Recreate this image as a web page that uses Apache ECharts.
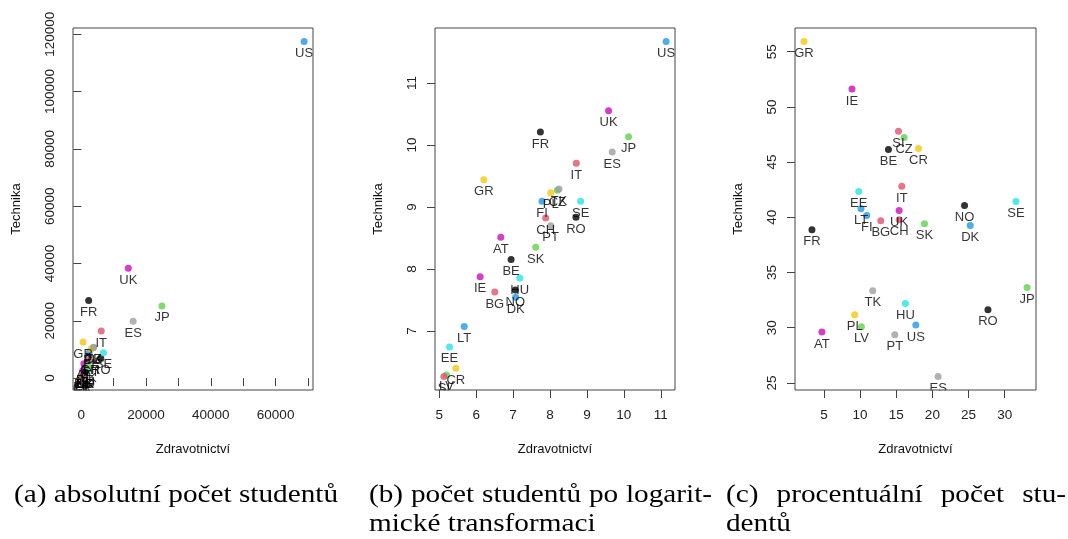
<!DOCTYPE html>
<html><head><meta charset="utf-8">
<script src="https://cdn.jsdelivr.net/npm/echarts@6/dist/echarts.min.js"></script>
<style>html,body{margin:0;padding:0;background:#fff}#c{width:1068px;height:539px}</style>
</head><body><div id="c"></div>
<script>
// ---- data ----
const countries = ['AT','BE','BG','CH','CR','CZ','DK','EE','ES','FI','FR','GR','HU','IE','IT','JP','LT','LV','NO','PL','PT','RO','SE','SI','SK','TK','UK','US'];
// (a) absolute numbers of students
const absHealth = [786,1040,668,2650,233,3640,1170,196,16000,2400,2260,520,1310,449,6150,24900,292,181,1170,3040,3040,6020,6830,168,2020,3800,14500,68800];
const absTech   = [4970,3470,2060,6790,600,10600,1890,847,19800,8880,27100,12600,2580,2630,16400,25200,1180,539,2120,10200,6000,6860,8880,525,4230,10800,38300,117500];
// (b) after log transformation
const logHealth = [6.667,6.946,6.505,7.883,5.45,8.198,7.07,5.279,9.685,7.784,7.739,6.207,7.18,6.108,8.712,10.126,5.676,5.198,7.06,8.018,8.018,8.703,8.829,5.126,7.613,8.243,9.586,11.144];
const logTech   = [8.511,8.151,7.629,8.823,6.398,9.269,7.543,6.742,9.887,9.091,10.21,9.441,7.855,7.876,9.704,10.134,7.07,6.29,7.661,9.231,8.699,8.833,9.091,6.263,8.349,9.29,10.554,11.672];
// (c) percentages
const pctHealth = [4.72,13.92,12.86,15.40,18.08,16.09,25.24,9.81,20.80,10.92,3.34,2.23,16.28,8.88,15.77,33.10,10.13,10.18,24.45,9.25,14.80,27.69,31.57,15.31,18.91,11.75,15.40,17.71];
const pctTech   = [29.61,46.13,39.68,39.77,46.22,47.22,39.26,42.34,25.57,40.16,38.87,55.93,32.18,51.62,42.82,33.65,40.77,30.09,41.07,31.18,29.37,31.63,41.43,47.79,39.41,33.35,40.62,30.25];

// tick values
const absXTicks = [0,10000,20000,30000,40000,50000,60000,70000];
const absXLabels = [0,20000,40000,60000];
const absYTicks = [0,20000,40000,60000,80000,100000,120000];
const logXTicks = [5,6,7,8,9,10,11];
const logYTicks = [7,8,9,10,11];
const pctXTicks = [5,10,15,20,25,30];
const pctYTicks = [25,30,35,40,45,50,55];

const xTitle = 'Zdravotnictví';
const yTitle = 'Technika';
const captionA = ['(a) absolutní počet studentů'];
const captionB = ['(b) počet studentů po logarit-', 'mické transformaci'];
const captionC = ['(c) procentuální počet stu-', 'dentů'];

// ---- colours (R default palette) ----
const BK='#000000', RD='#DF536B', GN='#61D04F', BL='#2297E6', CY='#28E2E5', MG='#CD0BBC', YL='#F5C710', GY='#9E9E9E';
const countryColors = [MG,BK,RD,RD,YL,GN,BL,CY,GY,BL,BK,YL,CY,MG,RD,GN,BL,GN,BK,YL,GY,BK,CY,RD,GN,GY,MG,BL];

// ---- layout ----
const grids = [
  {left:73, top:28, width:240, height:362},
  {left:435, top:28, width:240, height:362},
  {left:795, top:28, width:241, height:362}
];
const panels = [
  {x:absHealth, y:absTech, xt:absXTicks, xl:absXLabels, yt:absYTicks, yl:absYTicks},
  {x:logHealth, y:logTech, xt:logXTicks, xl:logXTicks, yt:logYTicks, yl:logYTicks},
  {x:pctHealth, y:pctTech, xt:pctXTicks, xl:pctXTicks, yt:pctYTicks, yl:pctYTicks}
];
function rng(a){const mn=Math.min(...a), mx=Math.max(...a), d=mx-mn; return [mn-0.04*d, mx+0.04*d];}

const AX='#444';
const xAxes=[], yAxes=[], series=[], graphics=[];
panels.forEach((p,i)=>{
  const xr=rng(p.x), yr=rng(p.y);
  xAxes.push({type:'value', gridIndex:i, min:xr[0], max:xr[1], z:10,
    axisLine:{show:false}, splitLine:{show:false},
    axisTick:{show:true, inside:false, length:8, lineStyle:{color:AX,width:1}, customValues:p.xt},
    axisLabel:{show:true, customValues:p.xl, margin:18, fontSize:13.5, color:'#222', fontFamily:'Liberation Sans', formatter:v=>String(v)}});
  yAxes.push({type:'value', gridIndex:i, min:yr[0], max:yr[1], z:10,
    axisLine:{show:false}, splitLine:{show:false},
    axisTick:{show:true, inside:false, length:8, lineStyle:{color:AX,width:1}, customValues:p.yt},
    axisLabel:{show:true, customValues:p.yl, rotate:90, margin:16, fontSize:13.5, color:'#222', fontFamily:'Liberation Sans', formatter:v=>String(v)}});
  const data = countries.map((c,k)=>({name:c, value:[p.x[k], p.y[k]], itemStyle:{color:countryColors[k]}}));
  series.push({type:'scatter', xAxisIndex:i, yAxisIndex:i, z:2, symbol:'circle', symbolSize:7, silent:true,
    data:data, label:{show:false}, emphasis:{disabled:true}});
  series.push({type:'scatter', xAxisIndex:i, yAxisIndex:i, z:3, symbol:'circle', symbolSize:7, silent:true,
    data:countries.map((c,k)=>({name:c, value:[p.x[k], p.y[k]]})),
    itemStyle:{color:'rgba(0,0,0,0)'},
    label:{show:true, position:'bottom', distance:2, formatter:'{b}', color:'#000', fontSize:13, fontFamily:'Liberation Sans'},
    labelLayout:{hideOverlap:false}, emphasis:{disabled:true}});
  const g=grids[i];
  // masks emulating clipping of text to the plot region
  graphics.push({type:'rect', z:5, shape:{x:g.left-12, y:g.top+g.height+0.5, width:g.width+24, height:13}, style:{fill:'#fff'}});
  graphics.push({type:'rect', z:5, shape:{x:g.left-12, y:g.top, width:11.5, height:g.height}, style:{fill:'#fff'}});
  graphics.push({type:'rect', z:5, shape:{x:g.left+g.width+0.5, y:g.top, width:12, height:g.height}, style:{fill:'#fff'}});
  // axis titles
  graphics.push({type:'text', z:10, x:g.left+g.width/2, y:449, style:{text:xTitle, font:'13px "Liberation Sans"', fill:'#111', textAlign:'center', textVerticalAlign:'middle', align:'center', verticalAlign:'middle'}});
  graphics.push({type:'text', z:10, x:g.left-57, y:g.top+g.height/2, rotation:Math.PI/2, style:{text:yTitle, font:'13px "Liberation Sans"', fill:'#111', textAlign:'center', textVerticalAlign:'middle', align:'center', verticalAlign:'middle'}});
});

// ---- captions ----
const CAP_FONT='26px "Liberation Serif"';
const ctx=document.createElement('canvas').getContext('2d');
ctx.font=CAP_FONT;
const mw=t=>ctx.measureText(t).width;
const sx=324/mw(captionA[0]);
function capText(t,x,y){return {type:'text', z:10, x:x, y:y, scaleX:sx, style:{text:t, font:CAP_FONT, fill:'#000', textAlign:'left', textVerticalAlign:'middle', align:'left', verticalAlign:'middle'}};}
function justify(line,L,R,y){
  const words=line.split(' ');
  const ws=words.map(w=>mw(w)*sx);
  const tot=ws.reduce((a,b)=>a+b,0);
  const gap=words.length>1?(R-L-tot)/(words.length-1):0;
  let x=L;
  words.forEach((w,k)=>{graphics.push(capText(w,x,y)); x+=ws[k]+gap;});
}
const Y1=495, Y2=524;
graphics.push(capText(captionA[0],14,Y1));
justify(captionB[0],369,712,Y1);
graphics.push(capText(captionB[1],369,Y2));
justify(captionC[0],726,1066,Y1);
graphics.push(capText(captionC[1],726,Y2));

const chart=echarts.init(document.getElementById('c'),null,{renderer:'canvas'});
chart.setOption({
  animation:false,
  backgroundColor:'#fff',
  grid:grids.map(g=>Object.assign({show:true, z:10, borderColor:AX, borderWidth:1, backgroundColor:'transparent', containLabel:false},g)),
  xAxis:xAxes, yAxis:yAxes, series:series, graphic:graphics
});
</script></body></html>
